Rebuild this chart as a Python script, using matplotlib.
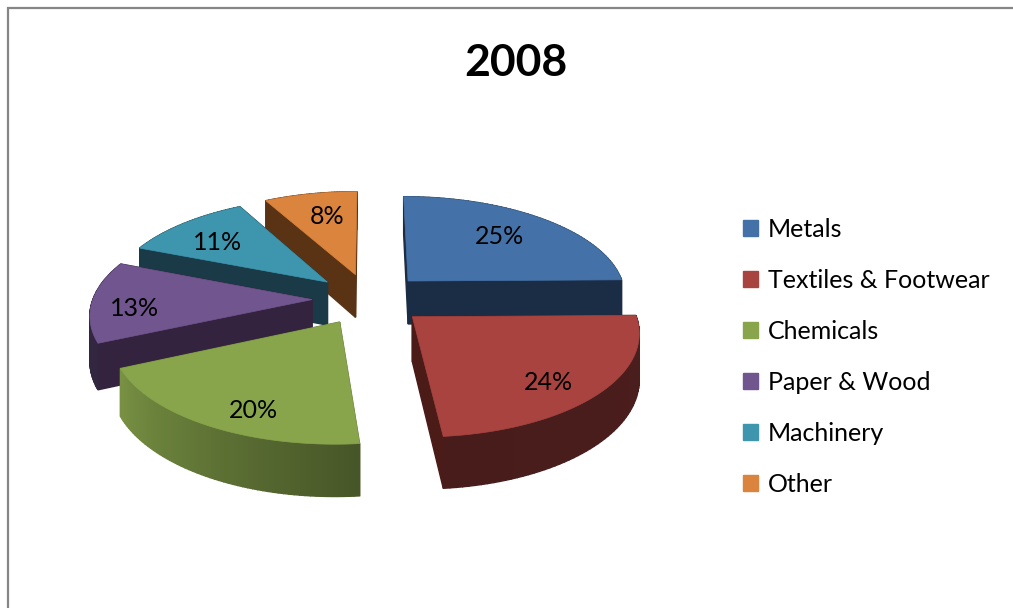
import numpy as np
import matplotlib
matplotlib.use('Agg')
import matplotlib.pyplot as plt
from matplotlib.colors import to_rgb
from matplotlib.patches import Patch, Polygon

# Data
categories = ['Metals', 'Textiles & Footwear', 'Chemicals', 'Paper & Wood', 'Machinery', 'Other']
shares = [24.8, 23.7, 19.7, 12.9, 11.0, 7.9]
title = '2008'

# Styles
top_colors = ['#4472a8', '#a84340', '#88a54c', '#70558e', '#3e96ae', '#db843d']
wall_colors = ['#1b2d45', '#4b1b18', '#5a6e33', '#34233e', '#1a3a47', '#5a3315']
arc_shades = [(0.45, 0.45), (0.45, 0.42), (0.52, 0.88), (0.45, 0.45), (0.45, 0.45), (0.45, 0.45)]
label_pos = [(499, 236), (548, 382), (253, 410), (135, 308), (218, 242), (327, 217)]
draw_order = [5, 4, 0, 3, 1, 2]

plt.rcParams['font.family'] = ['Lato', 'DejaVu Sans']

# Projection of the tilted pie, in pixels
CX, CY = 369, 299
R = 219
TILT = 0.455
PERSP = 0.13
EXPLODE = 0.26
DEPTH = 44


def project(x, y, z=0.0):
    s = 1.0 / (1.0 + PERSP * y)
    return CX + x * R * s, CY - y * R * TILT * s + z * DEPTH * s


def quad(p0, p1, color):
    # one strip of side wall between two points on the top face
    x0, y0 = p0
    x1, y1 = p1
    pts = [project(x0, y0), project(x1, y1), project(x1, y1, 1), project(x0, y0, 1)]
    return Polygon(pts, closed=True, facecolor=color, edgecolor=color, linewidth=1.0)


fig = plt.figure(figsize=(10.13, 6.08), dpi=100)
ax = fig.add_axes([0, 0, 1, 1])
ax.set_xlim(0, 1013)
ax.set_ylim(608, 0)
ax.axis('off')

total = sum(shares)
edges = 90 - 360 * np.cumsum([0] + shares) / total

for i in draw_order:
    a0, a1 = edges[i], edges[i + 1]
    mid = np.radians((a0 + a1) / 2)
    ox, oy = EXPLODE * np.cos(mid), EXPLODE * np.sin(mid)
    t = np.radians(np.linspace(a0, a1, 60))
    xs = ox + np.cos(t)
    ys = oy + np.sin(t)
    shades = np.linspace(arc_shades[i][0], arc_shades[i][1], len(t) - 1)
    base = np.array(to_rgb(top_colors[i]))

    strips = []
    for k in range(len(t) - 1):
        back = np.sin((t[k] + t[k + 1]) / 2) > 0
        strips.append((back, quad((xs[k], ys[k]), (xs[k + 1], ys[k + 1]), tuple(base * shades[k]))))
    for back, poly in strips:
        if back:
            ax.add_patch(poly)
    ax.add_patch(quad((ox, oy), (xs[0], ys[0]), wall_colors[i]))
    ax.add_patch(quad((ox, oy), (xs[-1], ys[-1]), wall_colors[i]))
    for back, poly in strips:
        if not back:
            ax.add_patch(poly)

    top = [project(ox, oy)] + [project(x, y) for x, y in zip(xs, ys)]
    ax.add_patch(Polygon(top, closed=True, facecolor=top_colors[i], edgecolor=top_colors[i], linewidth=0.5))

for value, (lx, ly) in zip(shares, label_pos):
    ax.text(lx, ly, f'{value / total * 100:.0f}%', ha='center', va='center', fontsize=18, color='black')

ax.text(516, 63, title, ha='center', va='center', fontsize=32, fontweight='bold', color='black')

# Outer frame of the chart area
ax.plot([8, 8, 1013], [608, 8, 8], color='#868686', linewidth=1.6, solid_joinstyle='miter')

handles = [Patch(facecolor=c, edgecolor=c, label=n) for c, n in zip(top_colors, categories)]
ax.legend(handles=handles, loc='upper left', bbox_to_anchor=(743, 218), bbox_transform=ax.transData,
          frameon=False, fontsize=18, labelspacing=1.12, handlelength=0.6, handleheight=0.6,
          handletextpad=0.4, borderpad=0, borderaxespad=0)

fig.savefig('out.png', dpi=100)
